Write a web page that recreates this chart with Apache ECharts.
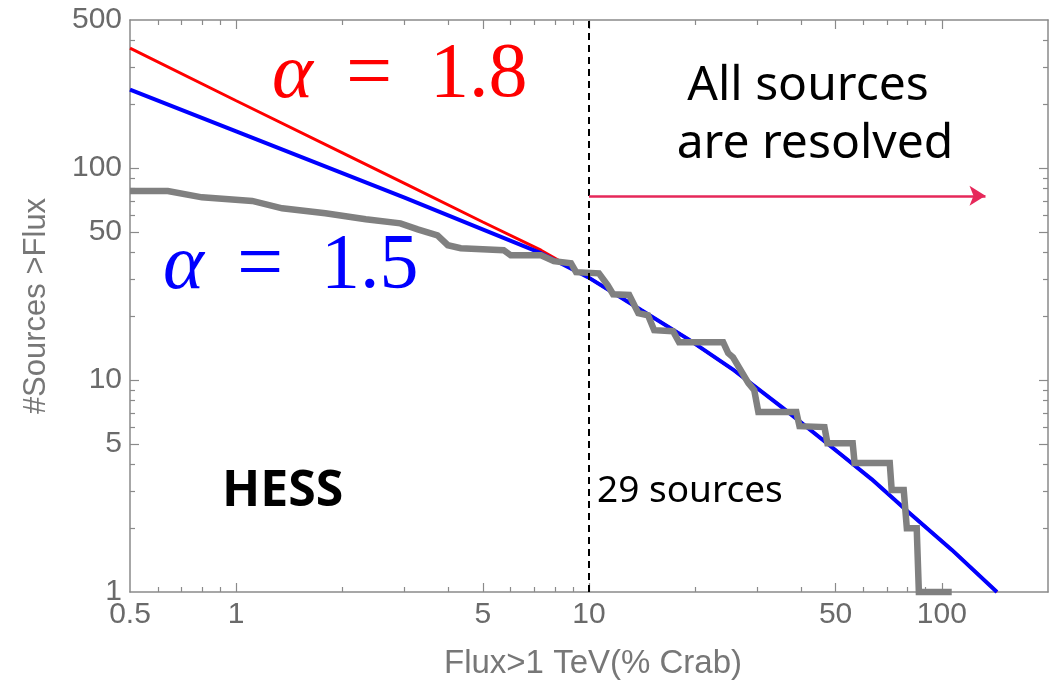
<!DOCTYPE html>
<html><head><meta charset="utf-8">
<script src="https://cdn.jsdelivr.net/npm/echarts@6/dist/echarts.min.js"></script>
<style>html,body{margin:0;padding:0;background:#fff}#c{width:1053px;height:685px}</style>
</head><body><div id="c"></div>
<script>
// ---- data ----
const xRange = [0.5, 200];
const yRange = [1, 500];
const xMajorLabels = [0.5, 1, 5, 10, 50, 100];
const xMajorTicks = [1, 5, 10, 50, 100];
const xMinorTicks = [0.6, 0.7, 0.8, 0.9, 2, 3, 4, 6, 7, 8, 9, 20, 30, 40, 60, 70, 80, 90];
const yMajorLabels = [1, 5, 10, 50, 100, 500];
const yMajorTicks = [5, 10, 50, 100];
const yMinorTicks = [2, 3, 4, 6, 7, 8, 9, 20, 30, 40, 60, 70, 80, 90, 200, 300, 400];

// HESS cumulative source counts N(>Flux), flux in % Crab
const hessCounts = [
  [0.5,78],[0.64,78],[0.80,72.8],[1.11,70],[1.35,64.6],[1.79,61.2],[2.33,57.4],
  [2.92,54.9],[3.27,51.4],[3.72,48.2],[3.98,43.3],[4.33,41.9],[5.73,41],[6.0,38.8],
  [7.31,38.8],[7.95,36.4],[8.89,35.6],[9.19,32.3],[10.67,31.9],[11.3,28],[11.7,25.4],
  [13,25.2],[13.8,20.7],[14.7,20.2],[15.3,17.2],[17.3,17],[18,15.1],[24,15.1],
  [24.8,13.4],[25.6,12.8],[28.3,9.67],[29.4,8.96],[30.2,7.06],[38.7,7.06],[39.5,6.06],
  [46.5,6.0],[47.4,5.04],[55.9,5.04],[56.6,4.06],[71.2,4.06],[72.1,3.03],[78,3.03],
  [79.6,2],[84.9,2],[86.1,1],[106.7,1]
];
// model alpha = 1.5
const modelAlpha15 = [
  [0.5,234.5],[1,149],[3,72.6],[7.31,39.7],[9.93,30.6],[14.05,21.4],[19.1,15.6],
  [25.8,11.1],[35.8,7.29],[52,4.43],[63.2,3.41],[80.5,2.38],[106.8,1.58],[143.3,1]
];
// model alpha = 1.8
const modelAlpha18 = [
  [0.5,368],[1,208],[2,118],[3,84.7],[5,55.7],[7.31,41],[9.93,30.6],[14.05,21.4],
  [19.1,15.6],[25.8,11.1],[35.8,7.29],[52,4.43],[63.2,3.41],[80.5,2.38],[106.8,1.58],[143.3,1]
];
const resolvedFlux = 10;          // dashed line
const arrowLevel = 74;            // arrow height (#sources)
const arrowEndFlux = 133;         // arrow tip

const AX = '#8a8a8a', LBL = '#6a6a6a';
const labelFont = {fontFamily:'"Liberation Sans", Arial, sans-serif', fontSize:30, color:LBL};

// log axes; several per side so major and minor ticks can have different lengths
function logAx(range, pos, ticks, len, labels, line){
  return {type:'log', logBase:10, min:range[0], max:range[1], position:pos, gridIndex:0,
    axisLine:{show:line, onZero:false, lineStyle:{color:AX, width:1.5}},
    axisTick:{show:true, inside:true, length:len, customValues:ticks, lineStyle:{color:AX, width:1.2}},
    axisLabel: labels ? Object.assign({show:true, customValues:labels, margin:8}, labelFont) : {show:false},
    splitLine:{show:false}, minorTick:{show:false}, axisPointer:{show:false}};
}

const chart = echarts.init(document.getElementById('c'), null, {renderer:'canvas'});
const serif = '"Liberation Serif", "DejaVu Serif", serif';
const gothic = '"Noto Sans", Lato, sans-serif';
chart.setOption({
  animation:false,
  backgroundColor:'#fff',
  grid:{left:130, right:5, top:20, bottom:93, containLabel:false},
  xAxis:[
    logAx(xRange, 'bottom', xMajorTicks, 9, xMajorLabels, true),
    logAx(xRange, 'bottom', xMinorTicks, 5, null, false),
    logAx(xRange, 'top', xMajorTicks, 9, null, true),
    logAx(xRange, 'top', xMinorTicks, 5, null, false)
  ],
  yAxis:[
    logAx(yRange, 'left', yMajorTicks, 9, yMajorLabels, true),
    logAx(yRange, 'left', yMinorTicks, 5, null, false),
    logAx(yRange, 'right', yMajorTicks, 9, null, true),
    logAx(yRange, 'right', yMinorTicks, 5, null, false)
  ],
  series:[
    {type:'line', name:'alpha18', data:modelAlpha18, showSymbol:false, symbol:'none',
     lineStyle:{color:'#ff0000', width:3}, z:2},
    {type:'line', name:'alpha15', data:modelAlpha15, showSymbol:false, symbol:'none',
     lineStyle:{color:'#0000ff', width:4}, z:3},
    {type:'line', name:'HESS', data:hessCounts, showSymbol:false, symbol:'none', clip:false,
     lineStyle:{color:'#808080', width:6.5, join:'miter'}, z:4,
     markLine:{silent:true, animation:false, label:{show:false}, symbol:['none','none'],
       data:[
         [{coord:[resolvedFlux, yRange[0]], symbol:'none', lineStyle:{color:'#000', width:2, type:[7,5]}},
          {coord:[resolvedFlux, yRange[1]], symbol:'none'}],
         [{coord:[resolvedFlux, arrowLevel], symbol:'none', lineStyle:{color:'#e6285a', width:2.5, type:'solid'}},
          {coord:[arrowEndFlux, arrowLevel], symbol:'arrow', symbolSize:[15,16]}]
       ]}}
  ],
  graphic:[
    {type:'text', x:272, y:76, style:{text:'α', font:'italic 78px '+serif, fill:'#ff0000', verticalAlign:'middle'}},
    {type:'text', x:346, y:76, style:{text:'=', font:'82px '+serif, fill:'#ff0000', verticalAlign:'middle'}},
    {type:'text', x:430, y:76, style:{text:'1.8', font:'78px '+serif, fill:'#ff0000', verticalAlign:'middle'}},
    {type:'text', x:163, y:267, style:{text:'α', font:'italic 78px '+serif, fill:'#0000ff', verticalAlign:'middle'}},
    {type:'text', x:237, y:267, style:{text:'=', font:'82px '+serif, fill:'#0000ff', verticalAlign:'middle'}},
    {type:'text', x:321, y:267, style:{text:'1.5', font:'78px '+serif, fill:'#0000ff', verticalAlign:'middle'}},
    {type:'text', x:808, y:86, style:{text:'All sources', font:'48px '+gothic, fill:'#000', align:'center', verticalAlign:'middle'}},
    {type:'text', x:815, y:144, style:{text:'are resolved', font:'48px '+gothic, fill:'#000', align:'center', verticalAlign:'middle'}},
    {type:'text', x:222, y:492, style:{text:'HESS', font:'bold 50px "Open Sans", sans-serif', fill:'#000', verticalAlign:'middle'}},
    {type:'text', x:597, y:491, style:{text:'29 sources', font:'37px '+gothic, fill:'#000', verticalAlign:'middle'}},
    {type:'text', x:593, y:664, style:{text:'Flux>1 TeV(% Crab)', font:'33px "Liberation Sans", Arial, sans-serif', fill:'#777', align:'center', verticalAlign:'middle'}},
    {type:'text', x:36, y:306, rotation:Math.PI/2, style:{text:'#Sources >Flux', font:'31px "Liberation Sans", Arial, sans-serif', fill:'#777', align:'center', verticalAlign:'middle'}}
  ]
});
</script></body></html>
